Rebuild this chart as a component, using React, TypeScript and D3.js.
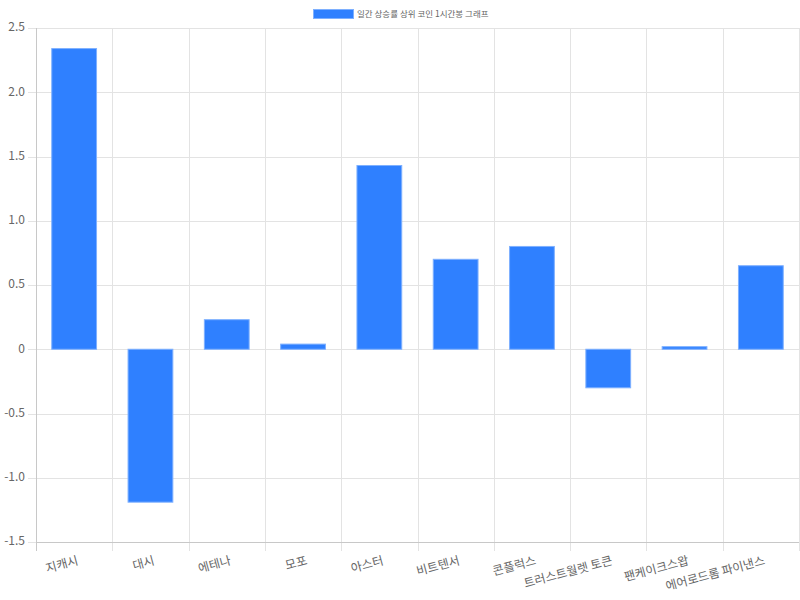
import React from "react";
import * as d3 from "d3";

const categories = ["지캐시", "대시", "에테나", "모포", "아스터", "비트텐서", "콘플럭스", "트러스트월렛 토큰", "팬케이크스왑", "에어로드롬 파이낸스"];
const values = [2.34, -1.19, 0.23, 0.04, 1.43, 0.7, 0.8, -0.3, 0.02, 0.65];
const yTicks = [-1.5, -1.0, -0.5, 0, 0.5, 1.0, 1.5, 2.0, 2.5];
const seriesName = "일간 상승률 상위 코인 1시간봉 그래프";

const W = 800;
const H = 600;
const left = 36;
const right = 799;
const top = 28;
const bottom = 542;
const FILL = "#2f80ff";
const STROKE = "#7eb0ff";
const FONT = "'Noto Sans CJK KR', 'Noto Sans', sans-serif";

export default function App() {
  const x = d3.scaleBand<string>().domain(categories).range([left, right]).padding(0);
  const y = d3.scaleLinear().domain([-1.5, 2.5]).range([bottom, top]);
  const bw = x.bandwidth() * 0.6;
  const fmt = (d: number) => (d === 0 ? "0" : d.toFixed(1));
  const gridX = categories.map((c) => x(c) as number).concat([right]);

  return (
    <svg width={W} height={H} style={{ position: "absolute", left: 0, top: 0 }} fontFamily={FONT}>
      <rect x={0} y={0} width={W} height={H} fill="#fff" />
      {/* legend */}
      <rect x={313.5} y={9.5} width={40} height={9} fill={FILL} stroke={STROKE} strokeWidth={1} />
      <text x={357} y={14.5} fontSize={8.5} fill="#666" dominantBaseline="middle">{seriesName}</text>
      {/* horizontal grid */}
      {yTicks.map((t) => (
        <line key={"h" + t} x1={left - 8} x2={right} y1={Math.round(y(t)) + 0.5} y2={Math.round(y(t)) + 0.5} stroke="#e3e3e3" strokeWidth={1} />
      ))}
      {/* vertical grid */}
      {gridX.map((gx, i) => (
        <line key={"v" + i} x1={Math.round(gx) + 0.5} x2={Math.round(gx) + 0.5} y1={top} y2={bottom + 9} stroke={i === 0 ? "#c8c8c8" : "#e3e3e3"} strokeWidth={1} />
      ))}
      {/* bottom axis line */}
      <line x1={left} x2={right} y1={bottom + 0.5} y2={bottom + 0.5} stroke="#c8c8c8" strokeWidth={1} />
      {/* y tick labels */}
      {yTicks.map((t) => (
        <text key={"yl" + t} x={25} y={y(t)} fontSize={12} fill="#666" textAnchor="end" dominantBaseline="middle">{fmt(t)}</text>
      ))}
      {/* bars */}
      {categories.map((c, i) => {
        const cx = (x(c) as number) + x.bandwidth() / 2;
        const v = values[i];
        const y0 = y(0);
        const y1 = y(v);
        const yt = Math.min(y0, y1);
        const h = Math.abs(y1 - y0);
        return (
          <rect key={"b" + c} x={cx - bw / 2 + 0.5} y={yt} width={bw - 1} height={h} fill={FILL} stroke={STROKE} strokeWidth={1} />
        );
      })}
      {/* x labels */}
      {categories.map((c) => {
        const cx = (x(c) as number) + x.bandwidth() / 2 + 4;
        const ly = 561;
        return (
          <text key={"xl" + c} x={cx} y={ly} fontSize={12} fill="#666" textAnchor="end" dominantBaseline="middle" transform={`rotate(-15, ${cx}, ${ly})`}>{c}</text>
        );
      })}
    </svg>
  );
}
